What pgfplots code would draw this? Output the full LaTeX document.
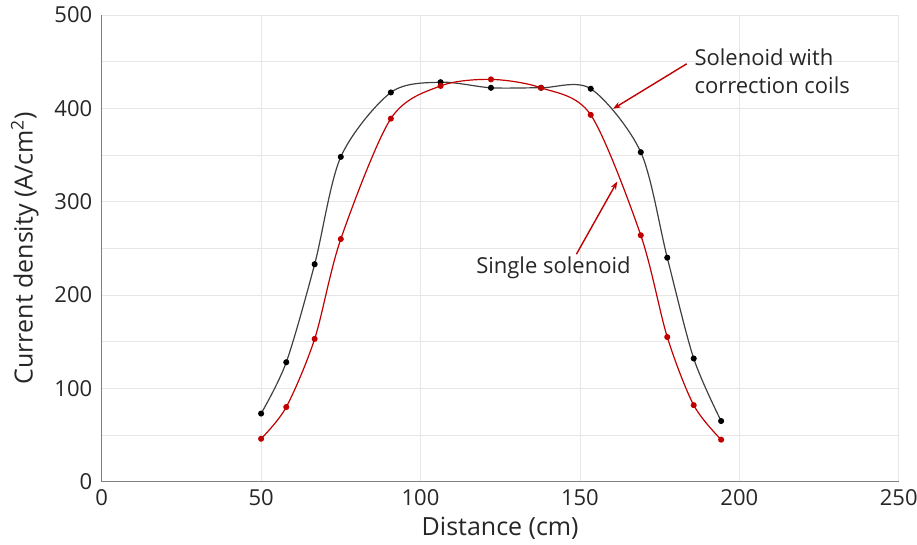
\documentclass[border=0pt]{standalone}
\usepackage{fontspec}
\setmainfont{Open Sans}
\usepackage{pgfplots}
\pgfplotsset{compat=1.18}
\usetikzlibrary{arrows.meta}
\definecolor{redc}{HTML}{C00000}
\definecolor{linegray}{HTML}{404040}
\definecolor{gridc}{HTML}{E6E6E6}
\definecolor{axc}{HTML}{808080}
\pgfplotstableread{
x y
50 73
57.9 128
66.8 233
75 348
90.7 417
106.3 428
122.1 422
137.8 422
153.4 421
169.1 353
177.4 240
185.7 132
194.3 65
}\withcoils
\pgfplotstableread{
x y
50 46
57.9 80
66.8 153
75 260
90.7 389
106.3 424
122.1 431
137.8 422
153.4 393
169.1 264
177.4 155
185.7 82
194.3 45
}\single
\begin{document}
\begin{tikzpicture}
\begin{axis}[
  name=ax,
  scale only axis,
  width=797pt, height=466.7pt,
  xmin=0, xmax=250, ymin=0, ymax=500,
  xtick={0,50,...,250},
  ytick={0,100,...,500},
  minor ytick={50,150,...,450},
  grid=both,
  major grid style={draw=gridc, line width=0.8pt},
  minor grid style={draw=gridc, line width=0.8pt},
  axis x line=bottom, axis y line=left,
  axis line style={draw=axc, line width=1.5pt, -},
  major tick length=0pt, minor tick length=0pt,
  tick label style={font=\fontsize{22}{26}\selectfont, text=black!85},
  /pgf/number format/assume math mode=true,
  yticklabel style={xshift=-6pt},
  xticklabel style={yshift=-4pt},
  xlabel={Distance (cm)},
  ylabel={Current density (A/cm\textsuperscript{2})},
  label style={font=\fontsize{25}{28}\selectfont, text=black!85},
  xlabel style={yshift=-5pt},
  ylabel style={yshift=9pt},
  clip=false,
]
\addplot[linegray, line width=1.2pt, smooth, tension=0.5, mark=*, mark size=2.4pt, mark options={fill=black, draw=black}] table[x=x,y=y] {\withcoils};
\addplot[redc, line width=1.2pt, smooth, tension=0.5, mark=*, mark size=2.4pt, mark options={fill=redc, draw=redc}] table[x=x,y=y] {\single};
\draw[redc, line width=1.4pt, -{Stealth[length=8pt,width=6pt]}] (axis cs:183.5,447.7) -- (axis cs:160.4,399.5);
\draw[redc, line width=1.4pt, -{Stealth[length=8pt,width=6pt]}] (axis cs:148.9,243.7) -- (axis cs:161.7,321.5);
\node[anchor=west, align=left, font=\fontsize{22}{28}\selectfont, text=black!85, inner sep=0pt] at (axis cs:185.9,440) {Solenoid with\\correction coils};
\node[font=\fontsize{22}{26}\selectfont, text=black!85, inner sep=0pt] at (axis cs:141.7,228.7) {Single solenoid};
\end{axis}
\pgfresetboundingbox
\path ([shift={(-101.7pt,-63.3pt)}]ax.south west) rectangle ([shift={(18.3pt,15pt)}]ax.north east);
\end{tikzpicture}
\end{document}
